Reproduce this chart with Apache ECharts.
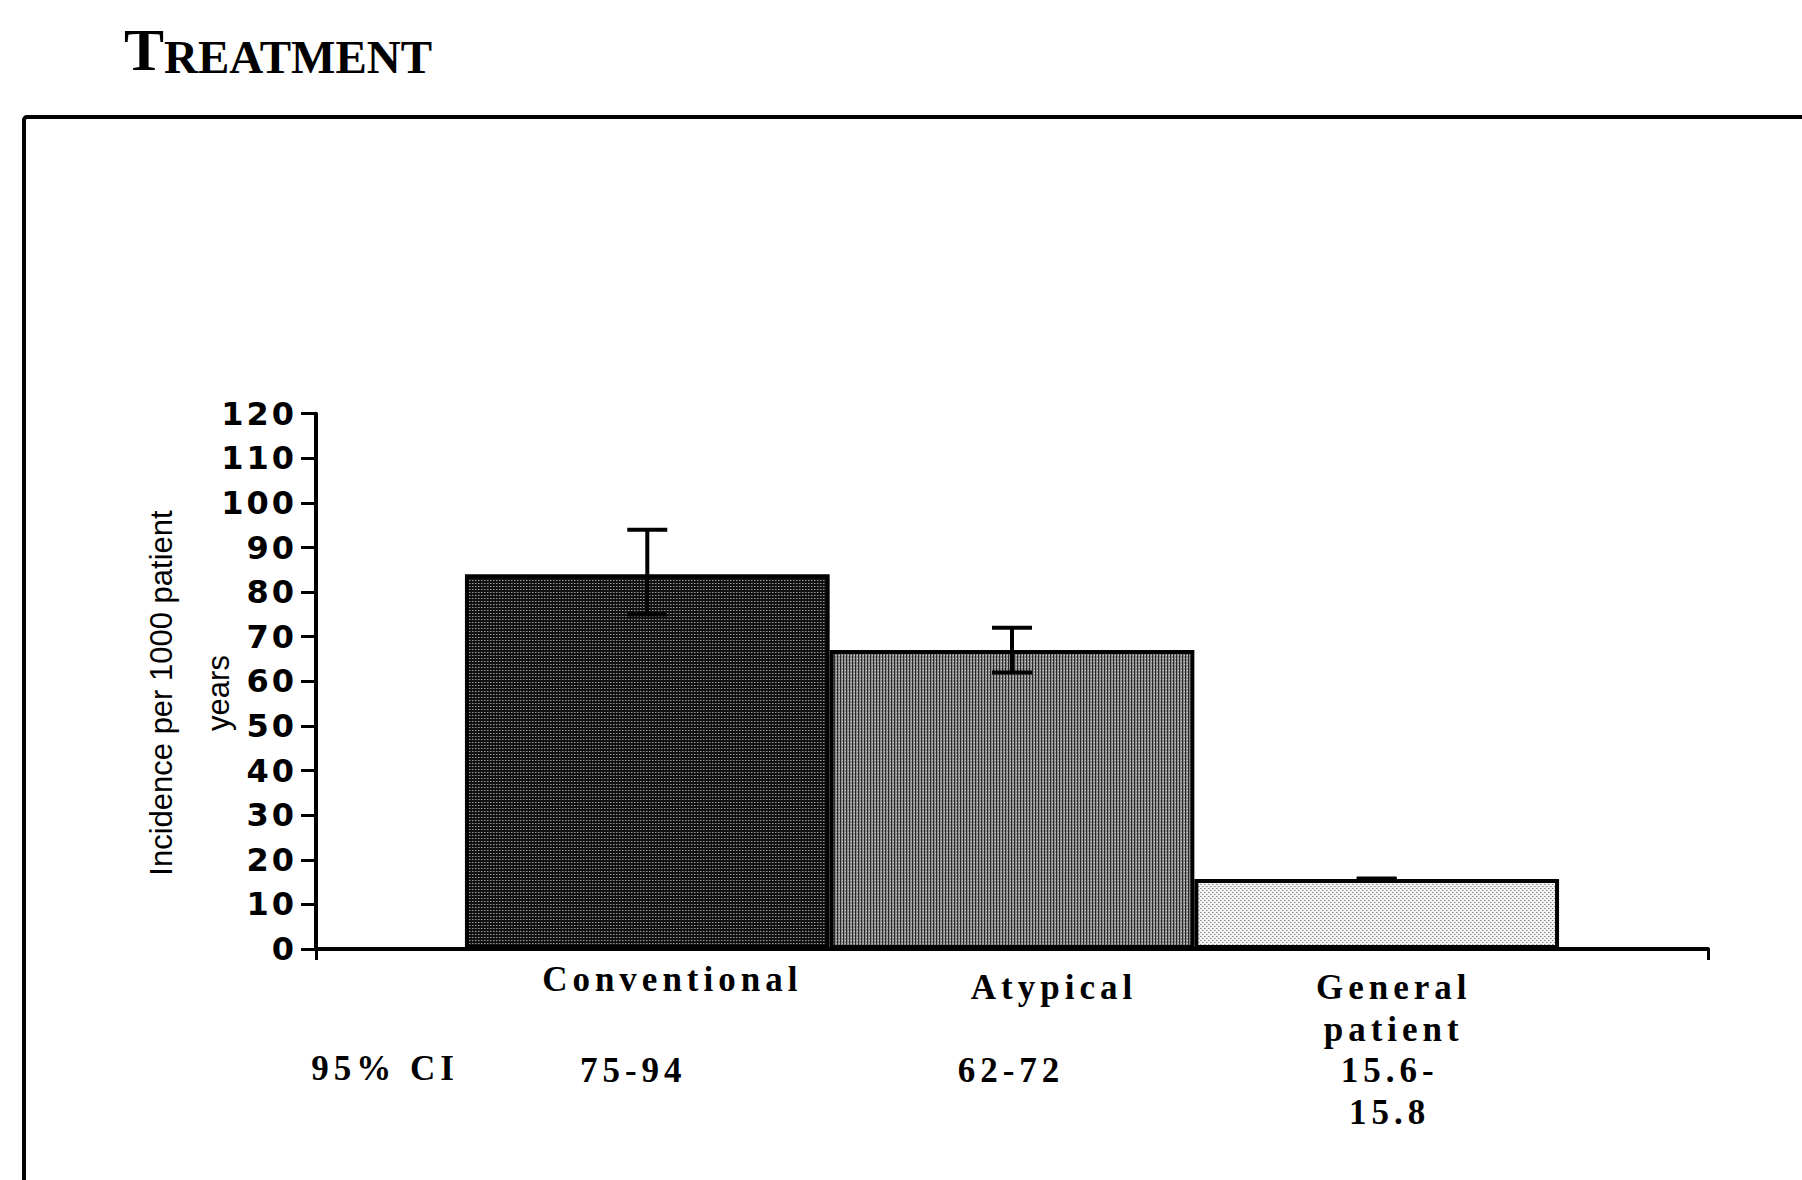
<!DOCTYPE html>
<html>
<head>
<meta charset="utf-8">
<script src="https://cdn.jsdelivr.net/npm/echarts@6/dist/echarts.min.js"></script>
<style>
  html, body { margin: 0; padding: 0; background: #fff; }
  #chart { width: 1802px; height: 1180px; }
  #chart text[style*="32px"] { letter-spacing: 3px; }
  #chart text[style*="35px"] { letter-spacing: 5px; }
  #chart text[style*="31px"] { letter-spacing: 0px; }
</style>
</head>
<body>
<div id="chart"></div>
<script>
// ---- data ----
const categories = ['Conventional', 'Atypical', 'General\npatient'];
const incidence = [84, 67, 15.7];
const ciLow = [75, 62, 15.6];
const ciHigh = [94, 72, 15.8];
const ciLabels = ['75-94', '62-72', '15.6-\n15.8'];
const ciHeader = '95% CI';
const yAxisName = 'Incidence per 1000 patient\nyears';
const titleText = '{a|T}{b|REATMENT}';
const yMin = 0, yMax = 120, yInterval = 10;

// ---- layout (not data) ----
const gapRatio = 0.214;
const nameDx = [25, 42, 17];
const nameDy = [30, 38, 38];
const ciDx = [-14, -1, 13];
const ciDy = 121;

function makePattern(size, bg, dots) {
  const c = document.createElement('canvas');
  c.width = size; c.height = size;
  const ctx = c.getContext('2d');
  ctx.fillStyle = bg; ctx.fillRect(0, 0, size, size);
  dots.forEach(d => { ctx.fillStyle = d[2]; ctx.fillRect(d[0], d[1], 1, 1); });
  return { image: c, repeat: 'repeat' };
}
const fills = [
  makePattern(3, '#111', [[1, 1, '#9a9a9a'], [2, 1, '#555']]),
  makePattern(3, '#8a8a8a', [[0, 0, '#222'], [0, 1, '#333'], [0, 2, '#222'], [2, 1, '#c8c8c8']]),
  makePattern(4, '#f4f4f4', [[0, 0, '#8a8a8a'], [2, 2, '#8a8a8a'], [1, 0, '#bbb'], [3, 2, '#bbb']])
];

const chart = echarts.init(document.getElementById('chart'), null, { renderer: 'svg' });

const barSeries = categories.map((c, i) => ({
  type: 'bar',
  name: c,
  data: [incidence[i]],
  barGap: '0%',
  barCategoryGap: (gapRatio * 100) + '%',
  itemStyle: { color: fills[i], borderColor: '#000', borderWidth: 4 },
  z: 2
}));

const labelFont = { fontFamily: 'Liberation Serif', fontWeight: 'bold', fontSize: 35, lineHeight: 42, fill: '#000', align: 'center', verticalAlign: 'top' };

const errSeries = {
  type: 'custom',
  name: 'ci',
  z: 5,
  clip: false,
  encode: { x: 0, y: [1, 2] },
  data: categories.map((c, i) => [0, ciLow[i], ciHigh[i], i]),
  renderItem: function (params, api) {
    const i = api.value(3);
    const band = api.size([1, 0])[0];
    const bw = band * (1 - gapRatio) / categories.length;
    const center = api.coord([0, 0]);
    const cx = center[0] + (i - (categories.length - 1) / 2) * bw;
    const axisY = center[1];
    const yLo = api.coord([0, api.value(1)])[1];
    const yHi = api.coord([0, api.value(2)])[1];
    const cap = 20;
    const ls = { stroke: '#000', lineWidth: 4 };
    return {
      type: 'group',
      children: [
        { type: 'line', shape: { x1: cx, y1: yLo, x2: cx, y2: yHi }, style: ls },
        { type: 'line', shape: { x1: cx - cap, y1: yHi, x2: cx + cap, y2: yHi }, style: ls },
        { type: 'line', shape: { x1: cx - cap, y1: yLo, x2: cx + cap, y2: yLo }, style: ls },
        { type: 'text', style: Object.assign({
            text: categories[i], x: cx + nameDx[i], y: axisY + nameDy[i] - 21 }, labelFont) },
        { type: 'text', style: Object.assign({
            text: ciLabels[i], x: cx + ciDx[i], y: axisY + ciDy - 21 }, labelFont) }
      ]
    };
  }
};

chart.setOption({
  animation: false,
  backgroundColor: '#fff',
  grid: { left: 316, right: 94, top: 413.7, bottom: 231, containLabel: false },
  xAxis: {
    type: 'category',
    data: [''],
    boundaryGap: true,
    axisLine: { lineStyle: { color: '#000', width: 4 } },
    axisTick: { show: true, length: 11, lineStyle: { color: '#000', width: 3 } },
    axisLabel: { show: false }
  },
  yAxis: {
    type: 'value',
    min: yMin, max: yMax, interval: yInterval,
    splitLine: { show: false },
    axisLine: { show: true, lineStyle: { color: '#000', width: 4 } },
    axisTick: { show: true, length: 15, lineStyle: { color: '#000', width: 3 } },
    axisLabel: { margin: 19, color: '#000', fontFamily: 'DejaVu Sans', fontWeight: 'bold', fontSize: 32 }
  },
  graphic: [
    { type: 'rect', shape: { x: 24, y: 117, width: 2000, height: 2000, r: 3 },
      style: { fill: 'none', stroke: '#000', lineWidth: 4 }, z: 0 },
    { type: 'text', x: 124, y: 30, style: {
        text: titleText, fill: '#000',
        rich: {
          a: { fontFamily: 'Liberation Serif', fontWeight: 'bold', fontSize: 60, verticalAlign: 'bottom', lineHeight: 50 },
          b: { fontFamily: 'Liberation Serif', fontWeight: 'bold', fontSize: 47, verticalAlign: 'bottom', lineHeight: 50 }
        } } },
    { type: 'text', x: 190, y: 693, rotation: Math.PI / 2, style: {
        text: yAxisName, fill: '#000', fontFamily: 'Liberation Sans', fontSize: 31, lineHeight: 57,
        align: 'center', verticalAlign: 'middle' } },
    { type: 'text', x: 385, y: 1068, style: {
        text: ciHeader, fill: '#000', fontFamily: 'Liberation Serif', fontWeight: 'bold', fontSize: 35,
        align: 'center', verticalAlign: 'middle' } }
  ],
  series: barSeries.concat([errSeries])
});
</script>
</body>
</html>
